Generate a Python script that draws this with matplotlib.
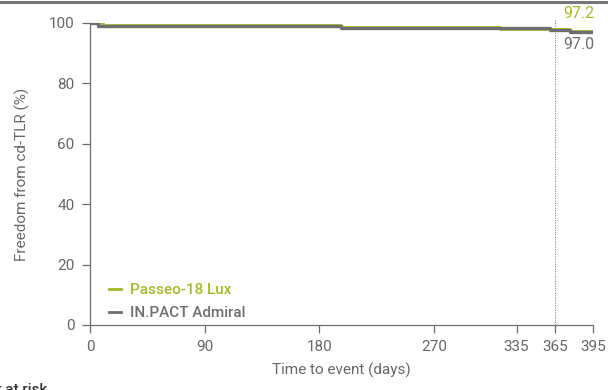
import matplotlib.pyplot as plt
from matplotlib.lines import Line2D

plt.rcParams['font.family'] = ['Roboto', 'DejaVu Sans']

GREEN = '#a6b82a'
GRAY = '#6d6e70'
TXT = '#666666'

# Kaplan-Meier steps (days, % free from cd-TLR)
passeo_days = [0, 10, 197, 322, 377, 395]
passeo_vals = [100, 99.3, 98.6, 97.9, 97.2, 97.2]
admiral_days = [0, 6, 197, 361, 377, 395]
admiral_vals = [100, 99.1, 98.5, 97.7, 97.0, 97.0]

xticks = [0, 90, 180, 270, 335, 365, 395]
yticks = [0, 20, 40, 60, 80, 100]

fig = plt.figure(figsize=(6.08, 3.90), dpi=100)
ax = fig.add_axes([90 / 608, 1 - 325 / 390, 503 / 608, 302 / 390])

ax.step(passeo_days, passeo_vals, where='post', color=GREEN, lw=2.0, zorder=3)
ax.step(admiral_days, admiral_vals, where='post', color=GRAY, lw=2.4, zorder=4)

ax.plot([365, 365], [0, 101.0], color=GRAY, lw=0.7, ls=(0, (1, 1.5)),
        clip_on=False, zorder=2)

ax.text(396, 100.6, '97.2', color=GREEN, fontsize=11.5, ha='right',
        va='bottom')
ax.text(396, 95.2, '97.0', color=GRAY, fontsize=11.5, ha='right', va='top')

ax.set_xlim(0, 395)
ax.set_ylim(0, 100)
ax.set_xticks(xticks)
ax.set_yticks(yticks)
ax.tick_params(colors=GRAY, labelcolor=TXT, labelsize=11, length=6, width=0.9,
               direction='out', pad=5)
for s in ['top', 'right']:
    ax.spines[s].set_visible(False)
for s in ['left', 'bottom']:
    ax.spines[s].set_color(GRAY)
    ax.spines[s].set_linewidth(0.9)

ax.set_xlabel('Time to event (days)', color=TXT, fontsize=11, labelpad=6)
ax.set_ylabel('Freedom from cd-TLR (%)', color=TXT, fontsize=11, labelpad=14)

handles = [Line2D([], [], color=GREEN, lw=2), Line2D([], [], color=GRAY, lw=2)]
leg = ax.legend(handles, ['Passeo-18 Lux', 'IN.PACT Admiral'], loc='lower left',
                bbox_to_anchor=(0.01, -0.03), frameon=False, handlelength=0.8,
                handletextpad=0.6, labelspacing=0.6, fontsize=11)
for t, c in zip(leg.get_texts(), [GREEN, GRAY]):
    t.set_color(c)
    t.set_fontweight('medium')

# top rule and clipped footer text
fig.add_artist(Line2D([0, 1], [1 - 2 / 390, 1 - 2 / 390], color='#777777', lw=2.2))
fig.text(47 / 608, -7 / 390, 'Number at risk', color='#333333', fontsize=11,
         ha='right', va='bottom', fontweight='medium')

fig.savefig('out.png', dpi=100)
